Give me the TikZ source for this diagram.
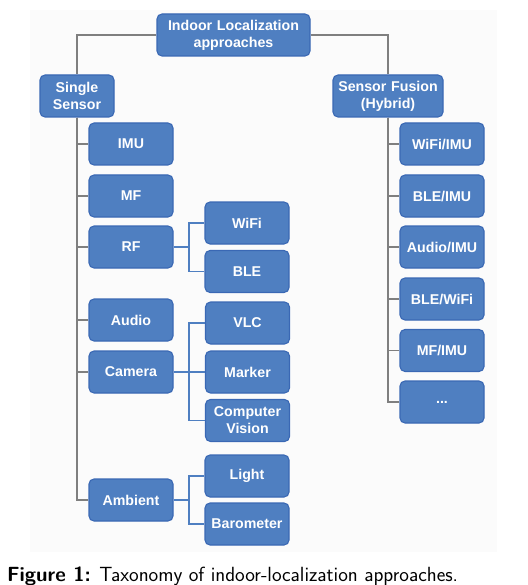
\documentclass[tikz,border=0pt]{standalone}
\usepackage{fontspec}
\newfontfamily\boxfont{Liberation Sans}
\definecolor{boxfill}{HTML}{4F7FC1}
\definecolor{boxdraw}{HTML}{3A68B4}
\definecolor{linegray}{HTML}{7F7F7F}
\definecolor{panel}{HTML}{FBFBFB}
\tikzset{
  bx/.style={draw=boxdraw, line width=1.1pt, fill=boxfill, rounded corners=5pt,
    minimum height=42pt, inner sep=1pt, align=center, text=white,
    font=\boxfont\bfseries\fontsize{14.2}{16.8}\selectfont},
  leaf/.style={bx, minimum width=84pt, text width=82pt},
  gline/.style={draw=linegray, line width=1.4pt},
  bline/.style={draw=boxfill, line width=1.2pt},
}
\begin{document}
\begin{tikzpicture}[x=1pt,y=-1pt]
\useasboundingbox (0,0) rectangle (527,585);
\fill[panel] (30,10) rectangle (497,552);
% level 0/1
\node[bx, minimum width=153pt, text width=150pt] (root) at (233.5,35) {Indoor Localization\\approaches};
\node[bx, minimum width=74pt, text width=72pt] (single) at (77,96) {Single\\Sensor};
\node[bx, minimum width=110pt, text width=108pt] (fusion) at (388,96) {Sensor Fusion\\(Hybrid)};
% single sensor children
\node[leaf] (imu) at (131,144) {IMU};
\node[leaf] (mf) at (131,196) {MF};
\node[leaf] (rf) at (131,247) {RF};
\node[leaf] (audio) at (131,320) {Audio};
\node[leaf] (camera) at (131,372) {Camera};
\node[leaf] (ambient) at (131,500) {Ambient};
% third level
\node[leaf] (wifi) at (247,223) {WiFi};
\node[leaf] (ble) at (247,271.5) {BLE};
\node[leaf] (vlc) at (247.5,323) {VLC};
\node[leaf] (marker) at (247.5,372) {Marker};
\node[leaf] (cv) at (247.5,420.5) {Computer\\Vision};
\node[leaf] (light) at (247,476) {Light};
\node[leaf] (baro) at (247,524) {Barometer};
% fusion children
\node[leaf] (wi) at (442,144) {WiFi/IMU};
\node[leaf] (bi) at (442,196) {BLE/IMU};
\node[leaf] (ai) at (442,247) {Audio/IMU};
\node[leaf] (bw) at (442,299) {BLE/WiFi};
\node[leaf] (mi) at (442,350.5) {MF/IMU};
\node[leaf] (dots) at (442,402) {...};
% connectors top
\draw[gline] (root.west) -| (single.north);
\draw[gline] (root.east) -| (fusion.north);
\foreach \c in {imu,mf,rf,audio,camera,ambient}
  \draw[gline] (single.south) |- (\c.west);
\foreach \c in {wi,bi,ai,bw,mi,dots}
  \draw[gline] (fusion.south) |- (\c.west);
% blue connectors
\coordinate (rfj) at (189,247);
\coordinate (camj) at (189,372);
\coordinate (ambj) at (189,500);
\draw[bline] (rf.east) -- (rfj);
\draw[bline] (rfj) |- (wifi.west);
\draw[bline] (rfj) |- (ble.west);
\draw[bline] (camera.east) -- (marker.west);
\draw[bline] (camj) |- (vlc.west);
\draw[bline] (camj) |- (cv.west);
\draw[bline] (ambient.east) -- (ambj);
\draw[bline] (ambj) |- (light.west);
\draw[bline] (ambj) |- (baro.west);
% caption
\node[anchor=base west, inner sep=0pt, font=\sffamily\fontsize{20.5}{24}\selectfont] (cap) at (7,581)
  {\textbf{Figure 1:} Taxonomy of indoor-localization approaches.};
\end{tikzpicture}
\end{document}
